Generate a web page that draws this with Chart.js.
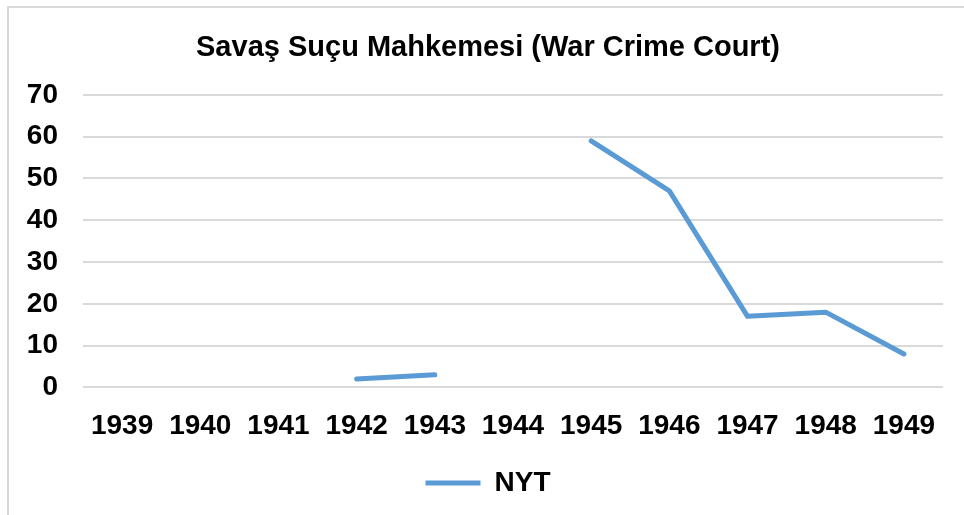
<!DOCTYPE html>
<html>
<head>
<meta charset="utf-8">
<script src="https://cdn.jsdelivr.net/npm/chart.js@4.4.1/dist/chart.umd.min.js"></script>
<style>
  body { margin: 0; background: #fff; }
  #wrap { position: relative; width: 964px; height: 515px; }
  #frame { position: absolute; left: 7px; top: 6px; width: 970px; height: 520px; border: 2px solid #d9d9d9; box-sizing: border-box; pointer-events: none; }
</style>
</head>
<body>
<div id="wrap">
  <canvas id="miGrafica" width="964" height="515"></canvas>
  <div id="frame"></div>
</div>
<script>
// datos
var years = ["1939", "1940", "1941", "1942", "1943", "1944", "1945", "1946", "1947", "1948", "1949"];
var nyt = [null, null, null, 2, 3, null, 59, 47, 17, 18, 8];
var yTicks = [0, 10, 20, 30, 40, 50, 60, 70];

var azul = "#5b9bd5";
var fuente = "'Liberation Sans', Arial, sans-serif";

new Chart("miGrafica", {
  type: "line",
  data: {
    labels: years,
    datasets: [{
      label: "NYT",
      data: nyt,
      borderColor: azul,
      backgroundColor: azul,
      borderWidth: 5,
      borderCapStyle: "round",
      borderJoinStyle: "round",
      pointRadius: 0,
      pointHoverRadius: 0,
      tension: 0,
      spanGaps: false
    }]
  },
  options: {
    responsive: false,
    animation: false,
    layout: { padding: { left: 17, right: 5, top: 0, bottom: 8 } }, // centrado sobre el marco
    plugins: {
      title: {
        display: true,
        text: "Savaş Suçu Mahkemesi (War Crime Court)",
        color: "#000",
        font: { family: fuente, size: 29, weight: "bold" },
        padding: { top: 31, bottom: 29 }
      },
      legend: {
        position: "bottom",
        labels: {
          color: "#000",
          font: { family: fuente, size: 28, weight: "bold" },
          usePointStyle: true,
          pointStyle: "line",
          pointStyleWidth: 55,
          padding: 12
        }
      },
      tooltip: { enabled: false }
    },
    scales: {
      x: {
        offset: true,
        grid: { display: false, drawTicks: false },
        border: { display: false },
        ticks: { color: "#000", font: { family: fuente, size: 28, weight: "bold" }, padding: 22, maxRotation: 0 },
        afterFit: function (scale) {
          scale.height -= 8;
          scale.paddingLeft = 0;
          scale.paddingRight = 0;
        }
      },
      y: {
        min: 0,
        max: 70,
        afterBuildTicks: function (scale) {
          scale.ticks = yTicks.map(function (v) { return { value: v }; });
        },
        afterFit: function (scale) { scale.width = 66; },
        grid: { color: "#d9d9d9", lineWidth: 2, drawTicks: false },
        border: { display: false },
        ticks: { color: "#000", font: { family: fuente, size: 28, weight: "bold" }, padding: 25 }
      },
      yVacio: { // eje vacio a la derecha, solo para el margen
        position: "right",
        grid: { display: false, drawTicks: false },
        border: { display: false },
        ticks: { display: false },
        afterFit: function (scale) { scale.width = 16; }
      }
    }
  }
});
</script>
</body>
</html>
